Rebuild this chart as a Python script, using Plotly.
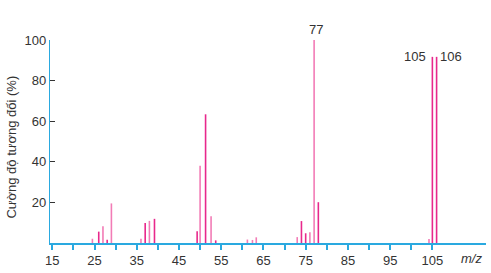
import plotly.graph_objects as go

# m/z positions and relative intensities (%)
mz = [24.5, 26, 27, 28, 29, 36, 37, 38, 39.2, 49.3, 50, 51.3, 52.6, 53.7,
      61.2, 62.4, 63.3, 73, 74, 75, 76, 77, 78, 104.2, 105, 106]
intensity = [2.1, 5.6, 8.2, 1.6, 19.5, 2.1, 9.8, 10.9, 11.9, 5.8, 38, 63.4, 13.2, 1.3,
             1.7, 1.5, 2.8, 2.9, 10.8, 4.8, 5.3, 100, 20.1, 2.0, 91.7, 91.7]
shade = ["L", "D", "L", "D", "L", "L", "D", "L", "D", "D", "L", "D", "L", "D",
         "L", "L", "L", "L", "D", "D", "L", "L", "D", "L", "D", "D"]

x_tickvals = list(range(15, 110, 5))
x_ticktext = [str(v) if (v - 15) % 10 == 0 else "" for v in x_tickvals]
y_tickvals = [20, 40, 60, 80, 100]

DARK = "#e8288c"
LIGHT = "#f27cb6"
BLUE = "#2aa9e0"
TEXT = "#333333"

fig = go.Figure()
for key, col in (("L", LIGHT), ("D", DARK)):
    xs, ys = [], []
    for m, h, s in zip(mz, intensity, shade):
        if s == key:
            xs += [m, m, None]
            ys += [0, h, None]
    fig.add_trace(go.Scatter(x=xs, y=ys, mode="lines",
                             line=dict(color=col, width=1.6),
                             hoverinfo="skip", cliponaxis=True))

annotations = []
pk = dict(zip(mz, intensity))
annotations.append(dict(x=77, y=pk[77], xref="x", yref="y", text="77", showarrow=False,
                        xanchor="center", yanchor="bottom", yshift=1, xshift=2,
                        font=dict(size=13, color=TEXT)))
annotations.append(dict(x=105, y=pk[105], xref="x", yref="y", text="105", showarrow=False,
                        xanchor="right", yanchor="middle", xshift=-4,
                        font=dict(size=13, color=TEXT)))
annotations.append(dict(x=106, y=pk[106], xref="x", yref="y", text="106", showarrow=False,
                        xanchor="left", yanchor="middle", xshift=1,
                        font=dict(size=13, color=TEXT)))
annotations.append(dict(x=0.966, y=-0.075, xref="paper", yref="paper", text="<i>m/z</i>",
                        showarrow=False, xanchor="center", yanchor="middle",
                        font=dict(size=13, color=TEXT)))
annotations.append(dict(x=-38 / 436, y=0.47, xref="paper", yref="paper",
                        text="Cường độ tương đối (%)", textangle=-90, showarrow=False,
                        xanchor="center", yanchor="middle",
                        font=dict(size=13, color=TEXT)))

fig.update_layout(
    width=491, height=273,
    margin=dict(l=50, r=5, t=40, b=26),
    paper_bgcolor="white", plot_bgcolor="white",
    font=dict(family="Liberation Sans, Arial, sans-serif", size=13, color=TEXT),
    showlegend=False,
    annotations=annotations,
    xaxis=dict(
        range=[14.46, 117.7],
        tickvals=x_tickvals, ticktext=x_ticktext,
        ticks="outside", ticklen=5, tickwidth=1.5, tickcolor=BLUE,
        showline=True, linecolor=BLUE, linewidth=1.5,
        showgrid=False, zeroline=False,
        tickfont=dict(size=13, color=TEXT),
    ),
    yaxis=dict(
        range=[0, 100],
        tickvals=y_tickvals,
        ticks="inside", ticklen=5, tickwidth=1, tickcolor=TEXT,
        showline=True, linecolor=BLUE, linewidth=1.2,
        showgrid=False, zeroline=False,
        tickfont=dict(size=13, color=TEXT),
    ),
)

fig.write_html("out.html")
